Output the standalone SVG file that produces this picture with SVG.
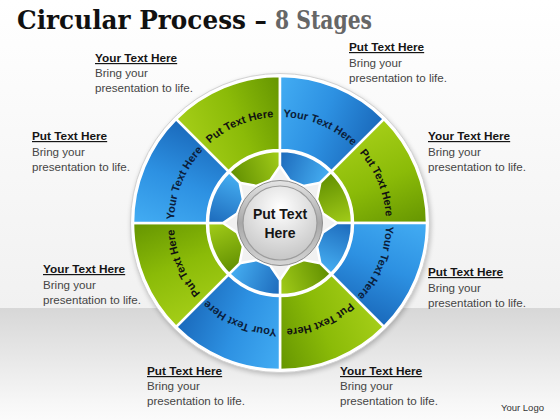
<svg xmlns="http://www.w3.org/2000/svg" xmlns:xlink="http://www.w3.org/1999/xlink" width="560" height="420" viewBox="0 0 560 420">
<style>
.seg{stroke:#fff;stroke-width:2.5;stroke-linejoin:round}
.st{font-family:"Liberation Sans",Arial,sans-serif;font-weight:bold;font-size:11px}
.h{font-family:"Liberation Sans",Arial,sans-serif;font-weight:bold;font-size:11.8px;fill:#151515;text-decoration:underline}
.b{font-family:"Liberation Sans",Arial,sans-serif;font-size:11.6px;fill:#454545}
.ttl{font-family:"DejaVu Serif","Liberation Serif",serif;font-weight:bold;font-size:26px}
</style>
<defs>
<linearGradient id="bgTop" x1="0" y1="0" x2="0" y2="1"><stop offset="0" stop-color="#ffffff"/><stop offset="1" stop-color="#f1f1f1"/></linearGradient>
<linearGradient id="bgBot" x1="0" y1="0" x2="0" y2="1"><stop offset="0" stop-color="#d7d7d7"/><stop offset="0.85" stop-color="#f7f7f7"/><stop offset="1" stop-color="#fbfbfb"/></linearGradient>
<linearGradient id="gB" gradientUnits="userSpaceOnUse" x1="215" y1="0" x2="345" y2="0"><stop offset="0" stop-color="#46b1f6"/><stop offset="0.5" stop-color="#2d91e2"/><stop offset="1" stop-color="#1763b5"/></linearGradient>
<linearGradient id="gG" gradientUnits="userSpaceOnUse" x1="215" y1="0" x2="345" y2="0"><stop offset="0" stop-color="#a9d11a"/><stop offset="0.5" stop-color="#8bbb08"/><stop offset="1" stop-color="#5f8f00"/></linearGradient>
<linearGradient id="gBi" gradientUnits="userSpaceOnUse" x1="250" y1="0" x2="310" y2="0"><stop offset="0" stop-color="#1a66b8"/><stop offset="1" stop-color="#48b2f5"/></linearGradient>
<linearGradient id="gGi" gradientUnits="userSpaceOnUse" x1="250" y1="0" x2="310" y2="0"><stop offset="0" stop-color="#5e8c00"/><stop offset="1" stop-color="#a6d01a"/></linearGradient>
<linearGradient id="ringG" x1="0" y1="0" x2="0" y2="1"><stop offset="0" stop-color="#e4e4e4"/><stop offset="0.5" stop-color="#a8a8a8"/><stop offset="1" stop-color="#d6d6d6"/></linearGradient>
<radialGradient id="discG" cx="0.5" cy="0.3" r="0.75"><stop offset="0" stop-color="#ffffff"/><stop offset="1" stop-color="#c2c2c2"/></radialGradient>
<filter id="sh" x="-10%" y="-10%" width="120%" height="120%"><feGaussianBlur stdDeviation="2.5"/></filter>
<path id="outerSeg" d="M 223.745 87.190 A 147 147 0 0 1 336.255 87.190 L 307.936 155.557 A 73 73 0 0 0 252.064 155.557 Z"/>
<path id="innerSeg" d="M 252.447 156.481 A 72 72 0 0 1 307.553 156.481 L 301.813 170.339 L 287.640 179.668 L 272.360 179.668 L 258.187 170.339 Z"/>
<path id="tp" d="M 239.436 125.069 A 106 106 0 0 1 320.564 125.069" fill="none"/>
</defs>

<rect x="0" y="0" width="560" height="308" fill="url(#bgTop)"/>
<rect x="0" y="308" width="560" height="112" fill="url(#bgBot)"/>

<text class="ttl" x="17" y="29" fill="#111" textLength="250" lengthAdjust="spacingAndGlyphs">Circular Process –</text>
<text class="ttl" x="275" y="29" fill="#666" textLength="97" lengthAdjust="spacingAndGlyphs">8 Stages</text>

<g id="disc">
<circle cx="281" cy="225" r="150" fill="#000" opacity="0.22" filter="url(#sh)"/>
<circle cx="280" cy="223" r="149.5" fill="#ffffff" stroke="#d2d2d2" stroke-width="1"/>
<circle cx="280" cy="223" r="71" fill="#f1f1f1"/>
</g>

<g id="stage1" transform="rotate(-22.5 280 223)">
<use xlink:href="#outerSeg" href="#outerSeg" class="seg" fill="url(#gG)"/>
<use xlink:href="#innerSeg" href="#innerSeg" class="seg" fill="url(#gGi)"/>
<text class="st" fill="#111"><textPath xlink:href="#tp" href="#tp" startOffset="50%" text-anchor="middle">Put Text Here</textPath></text>
</g>
<g id="stage2" transform="rotate(22.5 280 223)">
<use xlink:href="#outerSeg" href="#outerSeg" class="seg" fill="url(#gB)"/>
<use xlink:href="#innerSeg" href="#innerSeg" class="seg" fill="url(#gBi)"/>
<text class="st" fill="#0b1d3a"><textPath xlink:href="#tp" href="#tp" startOffset="50%" text-anchor="middle">Your Text Here</textPath></text>
</g>
<g id="stage3" transform="rotate(67.5 280 223)">
<use xlink:href="#outerSeg" href="#outerSeg" class="seg" fill="url(#gG)"/>
<use xlink:href="#innerSeg" href="#innerSeg" class="seg" fill="url(#gGi)"/>
<text class="st" fill="#111"><textPath xlink:href="#tp" href="#tp" startOffset="50%" text-anchor="middle">Put Text Here</textPath></text>
</g>
<g id="stage4" transform="rotate(112.5 280 223)">
<use xlink:href="#outerSeg" href="#outerSeg" class="seg" fill="url(#gB)"/>
<use xlink:href="#innerSeg" href="#innerSeg" class="seg" fill="url(#gBi)"/>
<text class="st" fill="#0b1d3a"><textPath xlink:href="#tp" href="#tp" startOffset="50%" text-anchor="middle">Your Text Here</textPath></text>
</g>
<g id="stage5" transform="rotate(157.5 280 223)">
<use xlink:href="#outerSeg" href="#outerSeg" class="seg" fill="url(#gG)"/>
<use xlink:href="#innerSeg" href="#innerSeg" class="seg" fill="url(#gGi)"/>
<text class="st" fill="#111"><textPath xlink:href="#tp" href="#tp" startOffset="50%" text-anchor="middle">Put Text Here</textPath></text>
</g>
<g id="stage6" transform="rotate(202.5 280 223)">
<use xlink:href="#outerSeg" href="#outerSeg" class="seg" fill="url(#gB)"/>
<use xlink:href="#innerSeg" href="#innerSeg" class="seg" fill="url(#gBi)"/>
<text class="st" fill="#0b1d3a"><textPath xlink:href="#tp" href="#tp" startOffset="50%" text-anchor="middle">Your Text Here</textPath></text>
</g>
<g id="stage7" transform="rotate(247.5 280 223)">
<use xlink:href="#outerSeg" href="#outerSeg" class="seg" fill="url(#gG)"/>
<use xlink:href="#innerSeg" href="#innerSeg" class="seg" fill="url(#gGi)"/>
<text class="st" fill="#111"><textPath xlink:href="#tp" href="#tp" startOffset="50%" text-anchor="middle">Put Text Here</textPath></text>
</g>
<g id="stage8" transform="rotate(292.5 280 223)">
<use xlink:href="#outerSeg" href="#outerSeg" class="seg" fill="url(#gB)"/>
<use xlink:href="#innerSeg" href="#innerSeg" class="seg" fill="url(#gBi)"/>
<text class="st" fill="#0b1d3a"><textPath xlink:href="#tp" href="#tp" startOffset="50%" text-anchor="middle">Your Text Here</textPath></text>
</g>

<g id="hub">
<circle cx="280" cy="223" r="42.5" fill="url(#ringG)" stroke="#8e8e8e" stroke-width="1"/>
<circle cx="280" cy="223" r="37" fill="url(#discG)" stroke="#9c9c9c" stroke-width="1.2"/>
<text x="280" y="219" text-anchor="middle" font-family="Liberation Sans, Arial, sans-serif" font-weight="bold" font-size="14" fill="#151515">Put Text</text>
<text x="280" y="238" text-anchor="middle" font-family="Liberation Sans, Arial, sans-serif" font-weight="bold" font-size="14" fill="#151515">Here</text>
</g>

<g id="connectors"/>

<g id="label1"><text class="h" x="95" y="62">Your Text Here</text><text class="b" x="95" y="77">Bring your</text><text class="b" x="95" y="92">presentation to life.</text></g>
<g id="label2"><text class="h" x="349" y="51">Put Text Here</text><text class="b" x="349" y="67">Bring your</text><text class="b" x="349" y="82">presentation to life.</text></g>
<g id="label3"><text class="h" x="32" y="140">Put Text Here</text><text class="b" x="32" y="156">Bring your</text><text class="b" x="32" y="171">presentation to life.</text></g>
<g id="label4"><text class="h" x="428" y="140">Your Text Here</text><text class="b" x="428" y="156">Bring your</text><text class="b" x="428" y="171">presentation to life.</text></g>
<g id="label5"><text class="h" x="43" y="273">Your Text Here</text><text class="b" x="43" y="289">Bring your</text><text class="b" x="43" y="304">presentation to life.</text></g>
<g id="label6"><text class="h" x="428" y="276">Put Text Here</text><text class="b" x="428" y="292">Bring your</text><text class="b" x="428" y="307">presentation to life.</text></g>
<g id="label7"><text class="h" x="147" y="375">Put Text Here</text><text class="b" x="147" y="390">Bring your</text><text class="b" x="147" y="405">presentation to life.</text></g>
<g id="label8"><text class="h" x="340" y="375">Your Text Here</text><text class="b" x="340" y="390">Bring your</text><text class="b" x="340" y="405">presentation to life.</text></g>
<text x="501" y="411" font-family="Liberation Sans, Arial, sans-serif" font-size="9.5" fill="#333">Your Logo</text>
</svg>
